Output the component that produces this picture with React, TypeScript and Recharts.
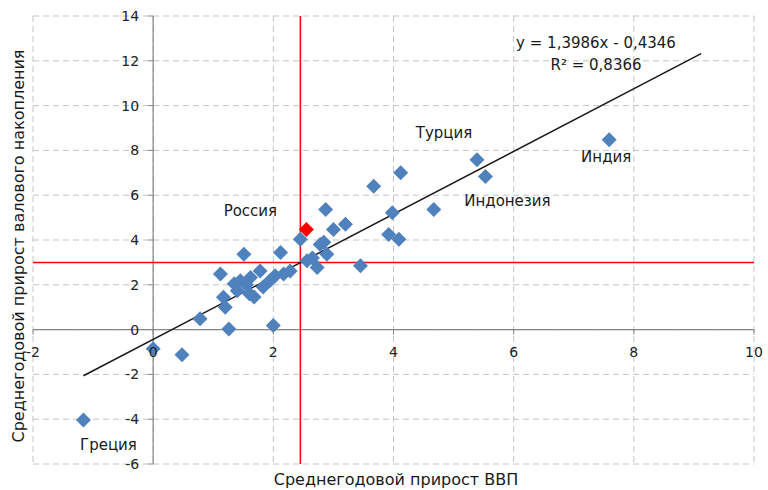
import React from 'react';
import { ScatterChart, Scatter, XAxis, YAxis, CartesianGrid, ReferenceLine } from 'recharts';

// axis ticks
const xTicks = [-2, 0, 2, 4, 6, 8, 10];
const yTicks = [-6, -4, -2, 0, 2, 4, 6, 8, 10, 12, 14];

// unnamed countries: GDP growth (x) and gross capital formation growth (y), % per year
const gdpGrowth = [
  0.0, 0.48, 0.78, 1.26, 2.0, 1.2, 1.17, 1.12, 1.51, 2.12,
  1.45, 1.62, 1.78, 1.68, 1.4, 1.83, 2.03, 2.17, 2.28, 1.55,
  1.35, 1.95, 2.45, 2.56, 2.73, 2.78, 2.89, 2.84, 2.87, 3.0,
  3.2, 3.45, 3.67, 3.92, 3.98, 4.09, 4.12, 4.67, 2.65, 1.6,
];
const investGrowth = [
  -0.86, -1.12, 0.48, 0.03, 0.18, 1.0, 1.44, 2.48, 3.36, 3.44,
  2.18, 2.33, 2.62, 1.45, 1.73, 1.9, 2.4, 2.48, 2.62, 2.0,
  2.05, 2.2, 4.03, 3.07, 2.77, 3.8, 3.36, 3.9, 5.36, 4.47,
  4.7, 2.85, 6.4, 4.25, 5.22, 4.03, 7.0, 5.36, 3.2, 1.6,
];

// labelled countries
const countryNames = ['Греция', 'Турция', 'Индонезия', 'Индия'];
const countryGdp = [-1.16, 5.39, 5.53, 7.59];
const countryInvest = [-4.04, 7.58, 6.84, 8.47];

const russiaName = 'Россия';
const russiaGdp = 2.55;
const russiaInvest = 4.47;

// averages (red cross lines)
const meanGdp = 2.45;
const meanInvest = 3.0;

// trendline ends
const trendX = [-1.16, 9.12];
const trendY = [-2.06, 12.32];

const equationText = 'y = 1,3986x - 0,4346';
const r2Text = 'R² = 0,8366';

const pointData = gdpGrowth.map((x, i) => ({ x, y: investGrowth[i] }));
const countryData = countryNames.map((name, i) => ({ name, x: countryGdp[i], y: countryInvest[i] }));
const russiaData = [{ name: russiaName, x: russiaGdp, y: russiaInvest }];

const W = 768;
const H = 490;
const PLOT = { top: 16, right: 14, bottom: 26, left: 33 };
const FONT = "'DejaVu Sans', sans-serif";

// pixel positions of the origin, where the axes cross
const X0 = PLOT.left + ((0 - -2) / 12) * (W - PLOT.left - PLOT.right);
const Y0 = PLOT.top + ((14 - 0) / 20) * (H - PLOT.top - PLOT.bottom);

// label offsets relative to the marker
const labelOffset: Record<string, [number, number]> = {
  'Греция': [25, 25],
  'Турция': [-33, -27],
  'Индонезия': [22, 25],
  'Индия': [-3, 17],
  'Россия': [-56, -18],
};

const diamondPath = (cx: number, cy: number, r: number) =>
  `M${cx},${cy - r}L${cx + r},${cy}L${cx},${cy + r}L${cx - r},${cy}Z`;

const Diamond = (props: any) => {
  const { cx, cy, fill } = props;
  return <path d={diamondPath(cx, cy, 7.5)} fill={fill} />;
};

const LabelledDiamond = (props: any) => {
  const { cx, cy, fill, payload } = props;
  const [dx, dy] = labelOffset[payload.name] || [0, -15];
  return (
    <g>
      <path d={diamondPath(cx, cy, 7.5)} fill={fill} />
      <text x={cx + dx} y={cy + dy} textAnchor="middle" dominantBaseline="central"
        fontFamily={FONT} fontSize={15} fill="#1a1a1a">
        {payload.name}
      </text>
    </g>
  );
};

// ticks sit on the axes that cross at the origin, not on the chart edges
const renderXTick = (props: any) => {
  const { x, payload } = props;
  return (
    <g>
      <line x1={x} x2={x} y1={Y0} y2={Y0 + 5} stroke="#868686" />
      <text x={x} y={Y0 + 22} textAnchor="middle" dominantBaseline="central"
        fontFamily={FONT} fontSize={14} fill="#222">
        {payload.value}
      </text>
    </g>
  );
};

const renderYTick = (props: any) => {
  const { y, payload } = props;
  return (
    <g>
      <line x1={X0 - 5} x2={X0} y1={y} y2={y} stroke="#868686" />
      <text x={X0 - 14} y={y} textAnchor="end" dominantBaseline="central"
        fontFamily={FONT} fontSize={14} fill="#222">
        {payload.value}
      </text>
    </g>
  );
};

const textStyle: React.CSSProperties = {
  position: 'absolute',
  transform: 'translate(-50%, -50%)',
  color: '#1a1a1a',
  whiteSpace: 'nowrap',
  lineHeight: 1,
};

export default function App() {
  return (
    <div style={{ position: 'absolute', left: 0, top: 0, width: W, height: H, background: '#fff', fontFamily: FONT }}>
      <ScatterChart width={W} height={H} margin={{ top: PLOT.top, right: PLOT.right, bottom: 0, left: 0 }}>
        <CartesianGrid strokeDasharray="6 4" stroke="#c4c4c4" />
        <XAxis type="number" dataKey="x" domain={[-2, 10]} ticks={xTicks} height={PLOT.bottom}
          axisLine={false} tickLine={false} tick={renderXTick} interval={0} />
        <YAxis type="number" dataKey="y" domain={[-6, 14]} ticks={yTicks} width={PLOT.left}
          axisLine={false} tickLine={false} tick={renderYTick} interval={0} />
        <ReferenceLine x={0} stroke="#868686" strokeWidth={1.2} />
        <ReferenceLine y={0} stroke="#868686" strokeWidth={1.2} />
        <Scatter data={pointData} fill="#4f81bd" shape={<Diamond />} isAnimationActive={false} />
        <Scatter data={countryData} fill="#4f81bd" shape={<LabelledDiamond />} isAnimationActive={false} />
        <ReferenceLine x={meanGdp} stroke="#ff0000" strokeWidth={1.5} />
        <ReferenceLine y={meanInvest} stroke="#ff0000" strokeWidth={1.5} />
        <ReferenceLine
          segment={[{ x: trendX[0], y: trendY[0] }, { x: trendX[1], y: trendY[1] }]}
          stroke="#1a1a1a" strokeWidth={1.5} />
        <Scatter data={russiaData} fill="#ff0000" shape={<LabelledDiamond />} isAnimationActive={false} />
      </ScatterChart>
      <div style={{ ...textStyle, left: 596, top: 43, fontSize: 15 }}>{equationText}</div>
      <div style={{ ...textStyle, left: 596, top: 65, fontSize: 15 }}>{r2Text}</div>
      <div style={{ ...textStyle, left: 396, top: 480, fontSize: 16 }}>Среднегодовой прирост ВВП</div>
      <div style={{ ...textStyle, left: 19, top: 246, fontSize: 16, transform: 'translate(-50%, -50%) rotate(-90deg)' }}>
        Среднегодовой прирост валового накопления
      </div>
    </div>
  );
}
